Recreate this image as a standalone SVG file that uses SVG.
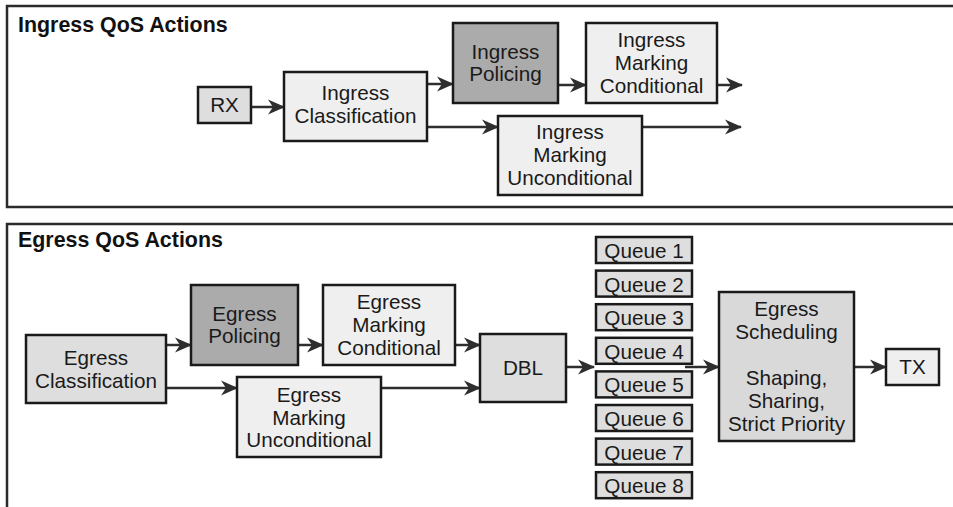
<svg xmlns="http://www.w3.org/2000/svg" width="953" height="507" viewBox="0 0 953 507">
<defs>
<style>
.panel{fill:#ffffff;stroke:#2b2b2b;stroke-width:2.5}
.box{stroke:#1a1a1a;stroke-width:2.5}
.l{fill:#efefef}
.m{fill:#dedede}
.d{fill:#ababab}
.t{font-family:"Liberation Sans",Arial,sans-serif;font-size:20.7px;fill:#1a1a1a;text-anchor:middle}
.title{font-family:"Liberation Sans",Arial,sans-serif;font-size:21.4px;font-weight:bold;fill:#111}
.c{fill:none;stroke:#2e2e2e;stroke-width:2.5}
</style>
<marker id="ah" markerUnits="userSpaceOnUse" markerWidth="18" markerHeight="16" refX="16" refY="7.5" orient="auto" viewBox="0 0 18 15">
<path d="M0,0 L17,7.5 L0,15 L5,7.5 z" fill="#2e2e2e"/>
</marker>
</defs>
<rect class="panel" x="7" y="6" width="960" height="201"/>
<rect class="panel" x="7" y="224" width="960" height="300"/>
<text class="title" x="18" y="32">Ingress QoS Actions</text>
<text class="title" x="18" y="247">Egress QoS Actions</text>

<g id="connectors">
<path class="c" d="M251,107 H284" marker-end="url(#ah)"/>
<path class="c" d="M427,84 H453" marker-end="url(#ah)"/>
<path class="c" d="M558,85 H586" marker-end="url(#ah)"/>
<path class="c" d="M717,85 H742" marker-end="url(#ah)"/>
<path class="c" d="M427,127 H498" marker-end="url(#ah)"/>
<path class="c" d="M642,127 H741" marker-end="url(#ah)"/>
<path class="c" d="M166,345 H191" marker-end="url(#ah)"/>
<path class="c" d="M298,345 H323" marker-end="url(#ah)"/>
<path class="c" d="M455,345 H480" marker-end="url(#ah)"/>
<path class="c" d="M166,388 H237" marker-end="url(#ah)"/>
<path class="c" d="M381,388 H480" marker-end="url(#ah)"/>
<path class="c" d="M566,367 H594" marker-end="url(#ah)"/>
<path class="c" d="M685,367 H719" marker-end="url(#ah)"/>
<path class="c" d="M854,367 H886" marker-end="url(#ah)"/>
</g>

<g id="rx"><rect class="box m" x="198" y="87" width="53" height="36"/><text class="t" x="224.5" y="112">RX</text></g>
<g id="ingress-classification"><rect class="box l" x="284" y="72" width="143" height="69"/><text class="t" x="355.5" y="100">Ingress</text><text class="t" x="355.5" y="123">Classification</text></g>
<g id="ingress-policing"><rect class="box d" x="453" y="23" width="105" height="80"/><text class="t" x="505.5" y="59">Ingress</text><text class="t" x="505.5" y="81">Policing</text></g>
<g id="ingress-marking-conditional"><rect class="box l" x="586" y="23" width="131" height="80"/><text class="t" x="651.5" y="47">Ingress</text><text class="t" x="651.5" y="70">Marking</text><text class="t" x="651.5" y="93">Conditional</text></g>
<g id="ingress-marking-unconditional"><rect class="box l" x="498" y="116" width="144" height="79"/><text class="t" x="570" y="139">Ingress</text><text class="t" x="570" y="162">Marking</text><text class="t" x="570" y="185">Unconditional</text></g>

<g id="egress-classification"><rect class="box m" x="26" y="335" width="140" height="68"/><text class="t" x="96" y="365">Egress</text><text class="t" x="96" y="388">Classification</text></g>
<g id="egress-policing"><rect class="box d" x="191" y="285" width="107" height="80"/><text class="t" x="244.5" y="321">Egress</text><text class="t" x="244.5" y="343">Policing</text></g>
<g id="egress-marking-conditional"><rect class="box l" x="323" y="285" width="132" height="80"/><text class="t" x="389" y="309">Egress</text><text class="t" x="389" y="332">Marking</text><text class="t" x="389" y="355">Conditional</text></g>
<g id="egress-marking-unconditional"><rect class="box l" x="237" y="377" width="144" height="80"/><text class="t" x="309" y="402">Egress</text><text class="t" x="309" y="425">Marking</text><text class="t" x="309" y="447">Unconditional</text></g>
<g id="dbl"><rect class="box m" x="480" y="334" width="86" height="68"/><text class="t" x="523" y="375">DBL</text></g>

<g id="queue-1"><rect class="box m" x="596" y="237" width="96" height="26"/><text class="t" x="644" y="258">Queue 1</text></g>
<g id="queue-2"><rect class="box m" x="596" y="270.6" width="96" height="26"/><text class="t" x="644" y="291.6">Queue 2</text></g>
<g id="queue-3"><rect class="box m" x="596" y="304.2" width="96" height="26"/><text class="t" x="644" y="325.2">Queue 3</text></g>
<g id="queue-4"><rect class="box m" x="596" y="337.8" width="96" height="26"/><text class="t" x="644" y="358.8">Queue 4</text></g>
<g id="queue-5"><rect class="box m" x="596" y="371.4" width="96" height="26"/><text class="t" x="644" y="392.4">Queue 5</text></g>
<g id="queue-6"><rect class="box m" x="596" y="405" width="96" height="26"/><text class="t" x="644" y="426">Queue 6</text></g>
<g id="queue-7"><rect class="box m" x="596" y="438.6" width="96" height="26"/><text class="t" x="644" y="459.6">Queue 7</text></g>
<g id="queue-8"><rect class="box m" x="596" y="472.2" width="96" height="26"/><text class="t" x="644" y="493.2">Queue 8</text></g>

<g id="egress-scheduling"><rect class="box" fill="#d9d9d9" x="719" y="292" width="135" height="149"/><text class="t" x="786.5" y="316">Egress</text><text class="t" x="786.5" y="339">Scheduling</text><text class="t" x="786.5" y="385">Shaping,</text><text class="t" x="786.5" y="408">Sharing,</text><text class="t" x="786.5" y="431">Strict Priority</text></g>
<g id="tx"><rect class="box l" x="886" y="349" width="53" height="36"/><text class="t" x="912.5" y="374">TX</text></g>
</svg>
